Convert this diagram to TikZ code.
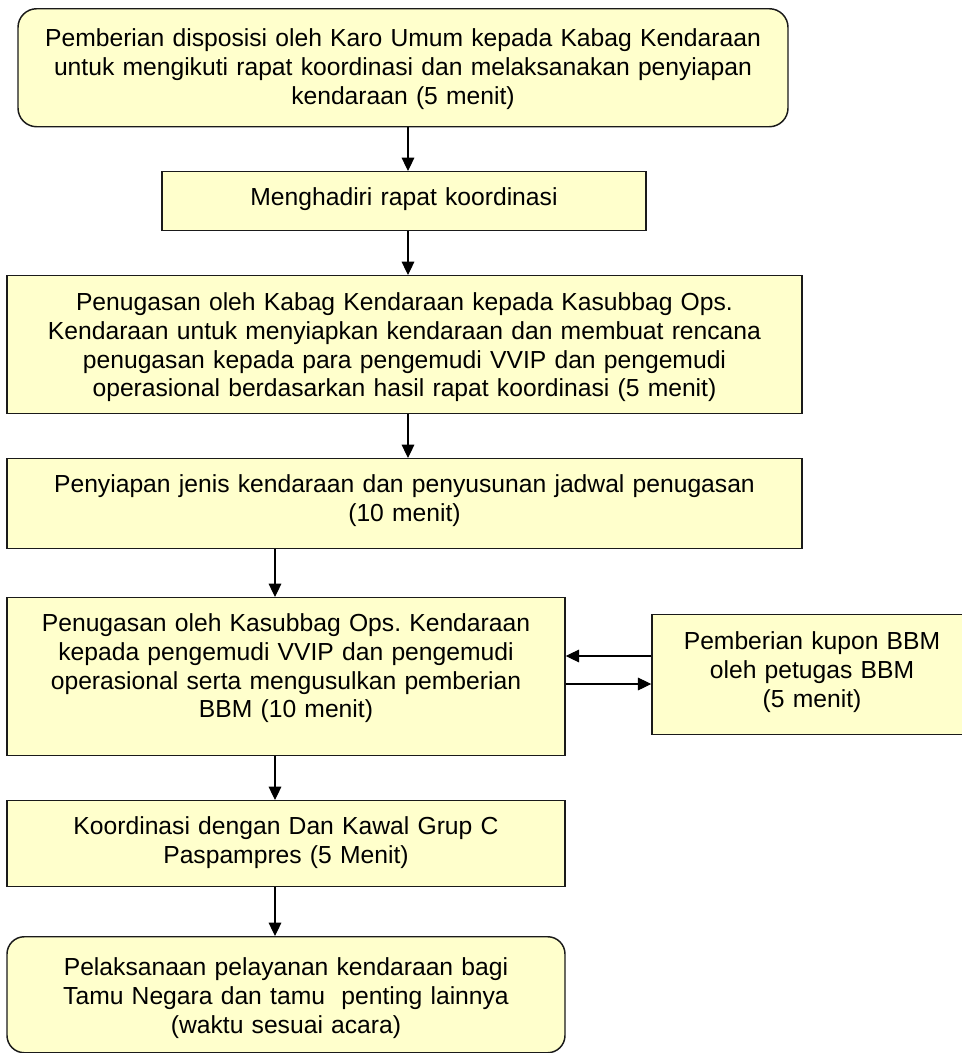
\documentclass[tikz,border=0pt]{standalone}
\usepackage{fontspec}
\setmainfont{Liberation Sans}
\usetikzlibrary{arrows.meta}
\definecolor{boxfill}{HTML}{FFFFCC}
\definecolor{boxline}{HTML}{1A1A1A}
\frenchspacing
\tikzset{
  flow/.style={draw=boxline, line width=1.1pt, fill=boxfill, inner xsep=0pt, inner ysep=0pt,
    align=center, anchor=north, font=\fontsize{18.5pt}{21.5pt}\selectfont},
  dims/.style n args={4}{minimum width=#1, text width=#2, text height=#3, text depth=#4},
  arr/.style={draw=black, line width=0.8pt, -{Triangle[length=10pt,width=9.5pt]}},
}
\begin{document}
\begin{tikzpicture}[x=0.75pt,y=-0.75pt]
\useasboundingbox (0,0) rectangle (961,1053);

\node[flow, rounded corners=14pt, dims={577.5pt}{570pt}{28.5pt}{60pt}] (b1) at (403,8)
  {Pemberian disposisi oleh Karo Umum kepada Kabag Kendaraan\\
   untuk mengikuti rapat koordinasi dan melaksanakan penyiapan\\
   kendaraan (5 menit)};

\node[flow, dims={363pt}{355pt}{25.5pt}{18.75pt}] (b2) at (404,171)
  {Menghadiri rapat koordinasi};

\node[flow, dims={596.25pt}{590pt}{26.25pt}{77.25pt}] (b3) at (404.5,275)
  {Penugasan oleh Kabag Kendaraan kepada Kasubbag Ops.\\
   Kendaraan untuk menyiapkan kendaraan dan membuat rencana\\
   penugasan kepada para pengemudi VVIP dan pengemudi\\
   operasional berdasarkan hasil rapat koordinasi (5 menit)};

\node[flow, dims={596.25pt}{590pt}{25.5pt}{42pt}] (b4) at (404.5,458)
  {Penyiapan jenis kendaraan dan penyusunan jadwal penugasan\\
   (10 menit)};

\node[flow, dims={418.5pt}{414pt}{25.5pt}{93pt}] (b5) at (286,597)
  {Penugasan oleh Kasubbag Ops. Kendaraan\\
   kepada pengemudi VVIP dan pengemudi\\
   operasional serta mengusulkan pemberian\\
   BBM (10 menit)};

\node[flow, dims={240pt}{236pt}{26.25pt}{63.75pt}] (b6) at (812,614)
  {Pemberian kupon BBM\\
   oleh petugas BBM\\
   (5 menit)};

\node[flow, dims={418.5pt}{414pt}{25.5pt}{39pt}] (b7) at (286,800)
  {Koordinasi dengan Dan Kawal Grup C\\
   Paspampres (5 Menit)};

\node[flow, rounded corners=13pt, dims={418.5pt}{414pt}{29.25pt}{57.75pt}] (b8) at (286,936)
  {Pelaksanaan pelayanan kendaraan bagi\\
   Tamu Negara dan tamu~ penting lainnya\\
   (waktu sesuai acara)};

\coordinate (ax1) at (408,0);
\coordinate (ax2) at (275,0);
\coordinate (ay1) at (0,656);
\coordinate (ay2) at (0,684);

\draw[arr] (b1.south -| ax1) -- (b2.north -| ax1);
\draw[arr] (b2.south -| ax1) -- (b3.north -| ax1);
\draw[arr] (b3.south -| ax1) -- (b4.north -| ax1);
\draw[arr] (b4.south -| ax2) -- (b5.north -| ax2);
\draw[arr] (b5.south -| ax2) -- (b7.north -| ax2);
\draw[arr] (b7.south -| ax2) -- (b8.north -| ax2);
\draw[arr] (b6.west |- ay1) -- (b5.east |- ay1);
\draw[arr] (b5.east |- ay2) -- (b6.west |- ay2);
\end{tikzpicture}
\end{document}
